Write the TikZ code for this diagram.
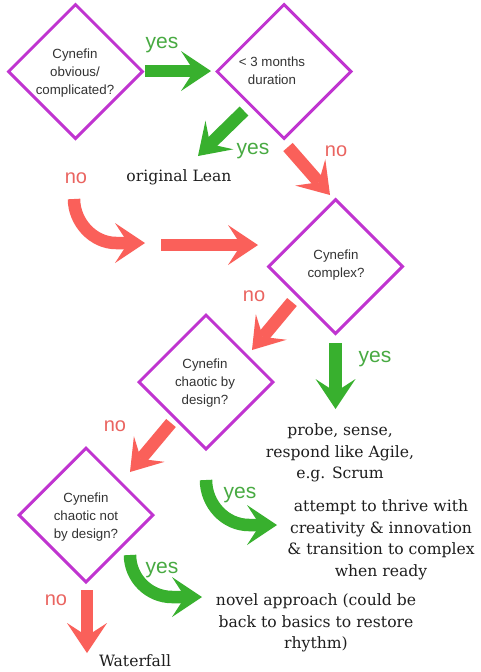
\documentclass[tikz,border=0pt]{standalone}
\usepackage{fontspec}
\setmainfont{DejaVu Serif}
\newfontfamily\sansf{Liberation Sans}
\usetikzlibrary{arrows.meta,shapes.geometric}
\definecolor{dpurple}{RGB}{192,52,208}
\definecolor{garrow}{RGB}{56,176,46}
\definecolor{rarrow}{RGB}{250,96,90}
\definecolor{ylab}{RGB}{72,170,66}
\definecolor{nlab}{RGB}{234,100,96}
\definecolor{qgray}{RGB}{51,51,51}
\definecolor{otext}{RGB}{30,30,30}
\begin{document}
\begin{tikzpicture}[x=1pt,y=-1pt,
  dia/.style={diamond, draw=dpurple, line width=3pt, minimum width=135pt, minimum height=135pt, inner sep=0pt, aspect=1},
  qtext/.style={font=\sansf\fontsize{13.3}{18}\selectfont, text=qgray, align=center, inner sep=0pt},
  outtext/.style={font=\fontsize{15.6}{21.5}\selectfont, text=otext, align=center, inner sep=0pt},
  yeslab/.style={font=\sansf\fontsize{21}{21}\selectfont, text=ylab, inner sep=0pt},
  nolab/.style={font=\sansf\fontsize{20}{20}\selectfont, text=nlab, inner sep=0pt},
  barrow/.style={line width=12.5pt, line cap=butt, -{Stealth[length=30pt,width=40pt,inset=13pt,line width=0pt]}},
  gar/.style={barrow, draw=garrow},
  rar/.style={barrow, draw=rarrow}]
\useasboundingbox (0,0) rectangle (480,672);
\fill[white] (0,0) rectangle (480,672);

% diamonds
\node[dia] (d1) at (75.5,71.5) {};
\node[dia] (d2) at (284,71.5) {};
\node[dia] (d3) at (335.5,266.5) {};
\node[dia] (d4) at (206,382) {};
\node[dia] (d5) at (86,515) {};

\node[qtext] (t1) at (75,73) {Cynefin\\obvious/\\complicated?};
\node[qtext] (t2) at (272,71) {< 3 months\\duration};
\node[qtext] (t3) at (336,265) {Cynefin\\complex?};
\node[qtext] (t4) at (205,383) {Cynefin\\chaotic by\\design?};
\node[qtext] (t5) at (86,517) {Cynefin\\chaotic not\\by design?};

% outcomes
\node[outtext] (o1) at (179,177) {original Lean};
\node[outtext] (o2) at (340,453) {probe, sense,\\respond like Agile,\\e.g. Scrum};
\node[outtext] (o3) at (381,540) {attempt to thrive with\\creativity \& innovation\\\& transition to complex\\when ready};
\node[outtext] (o4) at (316,623) {novel approach (could be\\back to basics to restore\\rhythm)};
\node[outtext] (o5) at (135,661) {Waterfall};

% labels
\node[yeslab] (y1) at (162,45) {yes};
\node[yeslab] (y2) at (253,151) {yes};
\node[nolab] (n1) at (336,151) {no};
\node[nolab] (n2) at (76,178) {no};
\node[nolab] (n3) at (254,296) {no};
\node[yeslab] (y3) at (375,359) {yes};
\node[nolab] (n4) at (115,426) {no};
\node[yeslab] (y4) at (240,495) {yes};
\node[yeslab] (y5) at (162,570) {yes};
\node[nolab] (n5) at (56,600) {no};

% arrow end points
\coordinate (a1s) at (145,71);   \coordinate (a1e) at (211,71);
\coordinate (a2s) at (244,111);  \coordinate (a2e) at (198,156);
\coordinate (a3s) at (288,147);  \coordinate (a3e) at (330,195);
\coordinate (a4s) at (74,199);   \coordinate (a4m) at (116,243); \coordinate (a4e) at (145,243);
\coordinate (a5s) at (161,245);  \coordinate (a5e) at (258,245);
\coordinate (a6s) at (292,302);  \coordinate (a6e) at (252,350);
\coordinate (a7s) at (335.5,343); \coordinate (a7e) at (335.5,409);
\coordinate (a8s) at (171,423);  \coordinate (a8e) at (130,472);
\coordinate (a9s) at (206,480);  \coordinate (a9m) at (249,525); \coordinate (a9e) at (277,525);
\coordinate (a10s) at (130,555); \coordinate (a10m) at (172,597); \coordinate (a10e) at (202,597);
\coordinate (a11s) at (87,590);  \coordinate (a11e) at (87,653);

\draw[gar] (a1s) -- (a1e);
\draw[gar] (a2s) -- (a2e);
\draw[rar] (a3s) -- (a3e);
\draw[rar] (a4s) .. controls (74,222) and (93,243) .. (a4m) -- (a4e);
\draw[rar] (a5s) -- (a5e);
\draw[rar] (a6s) -- (a6e);
\draw[gar] (a7s) -- (a7e);
\draw[rar] (a8s) -- (a8e);
\draw[gar] (a9s) .. controls (206,504) and (225,525) .. (a9m) -- (a9e);
\draw[gar] (a10s) .. controls (130,578) and (149,597) .. (a10m) -- (a10e);
\draw[rar] (a11s) -- (a11e);
\end{tikzpicture}
\end{document}
